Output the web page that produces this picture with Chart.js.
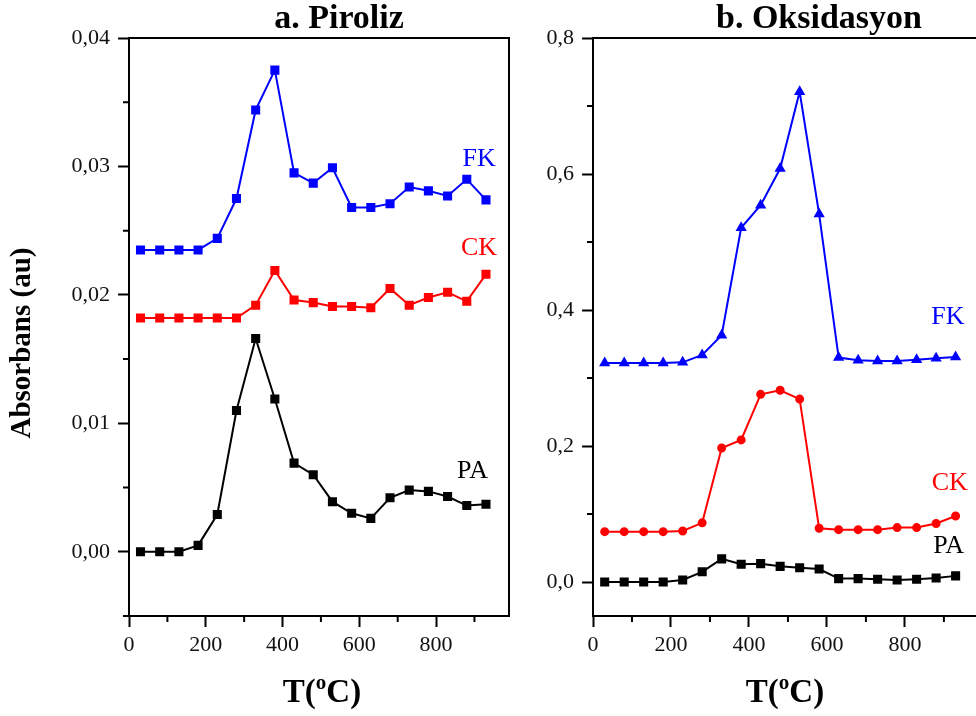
<!DOCTYPE html>
<html>
<head>
<meta charset="utf-8">
<script src="https://cdn.jsdelivr.net/npm/chart.js@4/dist/chart.umd.min.js"></script>
<style>
  html, body { margin: 0; padding: 0; background: #fff; overflow: hidden; }
  #wrap { position: relative; width: 976px; height: 716px; overflow: hidden; }
  #chartA { position: absolute; left: 0; top: 0; }
  #chartB { position: absolute; left: 520px; top: 0; }
</style>
</head>
<body>
<div id="wrap">
  <canvas id="chartA" width="520" height="716"></canvas>
  <canvas id="chartB" width="466" height="716"></canvas>
</div>
<script>
// Temperatures (°C), shared by both panels
const temps = [30, 80, 130, 180, 230, 280, 330, 380, 430, 480, 530, 580, 630, 680, 730, 780, 830, 880, 930];

// a. Piroliz
const pirolizFK = [0.0235, 0.0235, 0.0235, 0.0235, 0.0244, 0.0275, 0.0344, 0.0375, 0.0295, 0.0287, 0.0299, 0.0268, 0.0268, 0.0271, 0.0284, 0.0281, 0.0277, 0.0290, 0.0274];
const pirolizCK = [0.0182, 0.0182, 0.0182, 0.0182, 0.0182, 0.0182, 0.0192, 0.0219, 0.0196, 0.0194, 0.0191, 0.0191, 0.0190, 0.0205, 0.0192, 0.0198, 0.0202, 0.0195, 0.0216];
const pirolizPA = [0.0000, 0.0000, 0.0000, 0.0005, 0.0029, 0.0110, 0.0166, 0.0119, 0.0069, 0.0060, 0.0039, 0.0030, 0.0026, 0.0042, 0.0048, 0.0047, 0.0043, 0.0036, 0.0037];

// b. Oksidasyon
const oksFK = [0.322, 0.322, 0.322, 0.322, 0.323, 0.334, 0.363, 0.521, 0.554, 0.608, 0.721, 0.541, 0.330, 0.326, 0.325, 0.325, 0.327, 0.329, 0.331];
const oksCK = [0.074, 0.074, 0.074, 0.074, 0.075, 0.087, 0.197, 0.209, 0.276, 0.282, 0.269, 0.079, 0.077, 0.077, 0.077, 0.080, 0.080, 0.086, 0.097];
const oksPA = [0.000, 0.000, 0.000, 0.000, 0.003, 0.015, 0.034, 0.026, 0.027, 0.023, 0.021, 0.019, 0.005, 0.005, 0.004, 0.003, 0.004, 0.006, 0.009];

// Tick labels
const xTicks = [0, 200, 400, 600, 800];
const xMinor = [100, 300, 500, 700, 900];
const yTicksA = [0, 0.01, 0.02, 0.03, 0.04];
const yMinorA = [-0.005, 0.005, 0.015, 0.025, 0.035];
const yTicksB = [0, 0.2, 0.4, 0.6, 0.8];
const yMinorB = [0.1, 0.3, 0.5, 0.7];

const SERIF = '"Liberation Serif", "Times New Roman", serif';

function toPoints(ys) {
  return temps.map((t, i) => ({ x: t, y: ys[i] }));
}

function series(label, ys, color, style, radius) {
  return {
    label: label,
    data: toPoints(ys),
    borderColor: color,
    backgroundColor: color,
    borderWidth: 2,
    pointStyle: style,
    pointRadius: radius,
    pointHoverRadius: radius,
    tension: 0
  };
}

// draws the box, minor ticks and all the free text of a panel
const panelDecor = {
  id: 'panelDecor',
  afterDraw(chart, args, opts) {
    const ctx = chart.ctx;
    const a = chart.chartArea;
    const xs = chart.scales.x, ys = chart.scales.y;
    ctx.save();
    ctx.strokeStyle = '#000';
    ctx.lineWidth = 2;
    ctx.strokeRect(a.left, a.top, a.right - a.left, a.bottom - a.top);

    // minor ticks
    ctx.beginPath();
    opts.xMinor.forEach(v => {
      const px = xs.getPixelForValue(v);
      ctx.moveTo(px, a.bottom);
      ctx.lineTo(px, a.bottom + 6);
    });
    opts.yMinor.forEach(v => {
      const py = ys.getPixelForValue(v);
      ctx.moveTo(a.left, py);
      ctx.lineTo(a.left - 6, py);
    });
    ctx.stroke();

    // series names
    ctx.textAlign = 'center';
    ctx.textBaseline = 'middle';
    ctx.font = '26px ' + SERIF;
    opts.names.forEach(n => {
      ctx.fillStyle = n.color;
      ctx.fillText(n.text, xs.getPixelForValue(n.x), ys.getPixelForValue(n.y));
    });

    // panel title
    ctx.fillStyle = '#000';
    ctx.font = 'bold 34px ' + SERIF;
    ctx.fillText(opts.title, opts.titleX, 19);

    // x axis title T(°C) with raised o
    const cx = opts.xTitleX, cy = 693;
    ctx.font = 'bold 33px ' + SERIF;
    const w1 = ctx.measureText('T(').width;
    const w3 = ctx.measureText('C)').width;
    ctx.font = 'bold 21px ' + SERIF;
    const w2 = ctx.measureText('o').width;
    let x0 = cx - (w1 + w2 + w3) / 2;
    ctx.textAlign = 'left';
    ctx.font = 'bold 33px ' + SERIF;
    ctx.fillText('T(', x0, cy);
    ctx.font = 'bold 21px ' + SERIF;
    ctx.fillText('o', x0 + w1, cy - 9);
    ctx.font = 'bold 33px ' + SERIF;
    ctx.fillText('C)', x0 + w1 + w2, cy);

    // y axis title
    if (opts.yTitle) {
      ctx.translate(23, 343);
      ctx.rotate(-Math.PI / 2);
      ctx.textAlign = 'center';
      ctx.font = 'bold 29px ' + SERIF;
      ctx.fillText(opts.yTitle, 0, 0);
    }
    ctx.restore();
  }
};

function makePanel(canvasId, datasets, yMin, yMax, yTicks, yMinor, decimals, axisWidth, pad, decor) {
  return new Chart(document.getElementById(canvasId), {
    type: 'line',
    data: { datasets: datasets },
    options: {
      responsive: false,
      animation: false,
      layout: { padding: pad },
      plugins: {
        legend: { display: false },
        tooltip: { enabled: false },
        panelDecor: decor
      },
      scales: {
        x: {
          type: 'linear',
          min: 0,
          max: 990,
          afterBuildTicks: s => { s.ticks = xTicks.map(v => ({ value: v })); },
          afterFit: s => { s.height = 40; },
          grid: { drawOnChartArea: false, tickLength: 11, tickWidth: 2, tickColor: '#000' },
          border: { display: true, color: '#000', width: 2 },
          ticks: {
            color: '#111',
            padding: 5,
            maxRotation: 0,
            font: { family: SERIF, size: 22 },
            callback: v => String(v)
          }
        },
        y: {
          type: 'linear',
          min: yMin,
          max: yMax,
          afterBuildTicks: s => { s.ticks = yTicks.map(v => ({ value: v })); },
          afterFit: s => { s.width = axisWidth; },
          grid: { drawOnChartArea: false, tickLength: 11, tickWidth: 2, tickColor: '#000' },
          border: { display: true, color: '#000', width: 2 },
          ticks: {
            color: '#111',
            padding: 8,
            font: { family: SERIF, size: 22 },
            callback: v => v.toFixed(decimals).replace('.', ',')
          }
        }
      }
    },
    plugins: [panelDecor]
  });
}

makePanel('chartA', [
  series('FK', pirolizFK, '#0000ff', 'rect', 5),
  series('CK', pirolizCK, '#ff0000', 'rect', 5),
  series('PA', pirolizPA, '#000000', 'rect', 5)
], -0.005, 0.04, yTicksA, yMinorA, 2, 129, { top: 38, right: 11, bottom: 60, left: 0 }, {
  xMinor: xMinor,
  yMinor: yMinorA,
  title: 'a. Piroliz',
  titleX: 339,
  xTitleX: 322,
  yTitle: 'Absorbans (au)',
  names: [
    { text: 'FK', color: '#0000ff', x: 912, y: 0.0306 },
    { text: 'CK', color: '#ff0000', x: 912, y: 0.0236 },
    { text: 'PA', color: '#000000', x: 895, y: 0.0063 }
  ]
});

makePanel('chartB', [
  series('FK', oksFK, '#0000ff', 'triangle', 4.5),
  series('CK', oksCK, '#ff0000', 'circle', 3.5),
  series('PA', oksPA, '#000000', 'rect', 5)
], -0.05, 0.8, yTicksB, yMinorB, 1, 73, { top: 38, right: 4, bottom: 60, left: 0 }, {
  xMinor: xMinor,
  yMinor: yMinorB,
  title: 'b. Oksidasyon',
  titleX: 299,
  xTitleX: 265,
  yTitle: null,
  names: [
    { text: 'FK', color: '#0000ff', x: 910, y: 0.390 },
    { text: 'CK', color: '#ff0000', x: 915, y: 0.146 },
    { text: 'PA', color: '#000000', x: 912, y: 0.052 }
  ]
});
</script>
</body>
</html>
